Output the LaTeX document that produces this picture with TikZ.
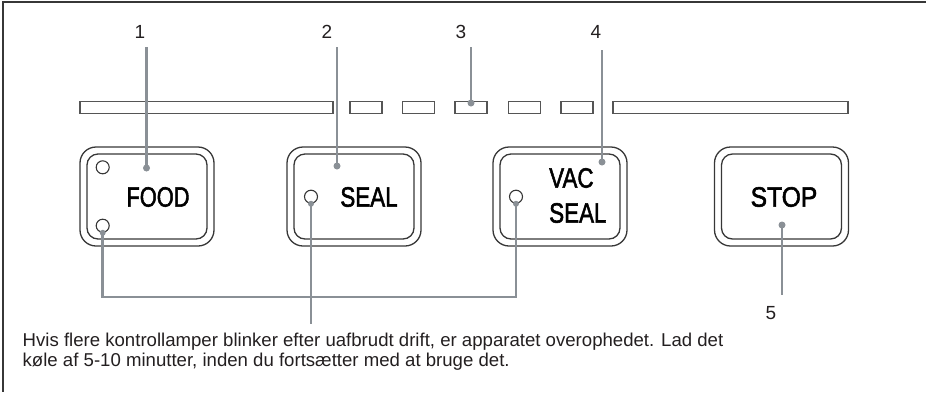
\documentclass[tikz,border=0pt]{standalone}
\usepackage{fontspec}
\setmainfont{Liberation Sans}
\newfontfamily\btnfont[FakeBold=2]{Liberation Sans}
\definecolor{dk}{RGB}{55,55,55}
\definecolor{bk}{RGB}{85,85,85}
\definecolor{ld}{RGB}{138,144,150}
\definecolor{tx}{RGB}{35,31,32}
\begin{document}
\begin{tikzpicture}[x=1pt,y=-1pt,
  frameline/.style={draw=dk, line width=2},
  outerbtn/.style={draw=dk, line width=1.3, rounded corners=16, minimum width=134, minimum height=99, inner sep=0},
  innerbtn/.style={draw=dk, line width=1.3, rounded corners=11, minimum width=120, minimum height=85, inner sep=0},
  led/.style={circle, draw=dk, line width=1.1, minimum size=13, inner sep=0, fill=white},
  bar/.style={draw=bk, line width=1.3, minimum height=12, inner sep=0},
  leader/.style={draw=ld, line width=2.8},
  enddot/.style={circle, fill=ld, minimum size=7, inner sep=0},
  num/.style={font=\fontsize{19}{19}\selectfont, text=tx, inner sep=0},
  btntext/.style={font=\btnfont\fontsize{28}{28}\selectfont, text=black, inner sep=0},
  note/.style={font=\fontsize{18.6}{20}\selectfont, text=tx, align=left, inner sep=0, anchor=north west}
]
\useasboundingbox (0,0) rectangle (926,392);
% frame
\draw[frameline] (926,2) -- (3,2) -- (3,392);

% indicator bars
\node[bar, minimum width=253] (barL) at (206.5,107.5) {};
\node[bar, minimum width=32] (b1) at (366,107.5) {};
\node[bar, minimum width=32] (b2) at (418.5,107.5) {};
\node[bar, minimum width=32] (b3) at (471,107.5) {};
\node[bar, minimum width=32] (b4) at (524.5,107.5) {};
\node[bar, minimum width=32] (b5) at (577,107.5) {};
\node[bar, minimum width=235] (barR) at (730.5,107.5) {};

% buttons
\node[outerbtn] (foodO) at (147,196.5) {};
\node[innerbtn] (foodI) at (147,196.5) {};
\node[outerbtn] (sealO) at (354,196.5) {};
\node[innerbtn] (sealI) at (354,196.5) {};
\node[outerbtn] (vacO) at (560,196.5) {};
\node[innerbtn] (vacI) at (560,196.5) {};
\node[outerbtn] (stopO) at (781.5,196.5) {};
\node[innerbtn] (stopI) at (781.5,196.5) {};

% button texts
\node[btntext] (foodT) at (158,197) {\scalebox{0.78}[1]{FOOD}};
\node[btntext] (sealT) at (369,197) {\scalebox{0.8}[1]{SEAL}};
\node[btntext, anchor=west] (vacT1) at (549,178) {\scalebox{0.8}[1]{VAC}};
\node[btntext, anchor=west] (vacT2) at (549,213) {\scalebox{0.8}[1]{SEAL}};
\node[btntext] (stopT) at (784,197) {\scalebox{0.88}[1]{STOP}};

% LEDs
\node[led] (ledA) at (102.7,167.3) {};
\node[led] (ledB) at (102.7,225.7) {};
\node[led] (ledS) at (311,196.7) {};
\node[led] (ledV) at (516,196.7) {};

% number labels
\node[num] (n1) at (140,32) {1};
\node[num] (n2) at (327,32) {2};
\node[num] (n3) at (461,32) {3};
\node[num] (n4) at (596,32) {4};
\node[num] (n5) at (771,313) {5};

% leader ends
\coordinate (t1) at (146.5,47);
\coordinate (t2) at (337,47);
\coordinate (t3) at (471,47);
\coordinate (t4) at (602,50);
\coordinate (t5) at (782,295);
\node[enddot] (d1) at (146.5,168) {};
\node[enddot] (d2) at (337,166) {};
\node[enddot] (d3) at (471,103) {};
\node[enddot] (d4) at (602,162) {};
\node[enddot] (d5) at (782,225) {};
\draw[leader] (t1) -- (d1.center);
\draw[leader] (t2) -- (d2.center);
\draw[leader] (t3) -- (d3.center);
\draw[leader] (t4) -- (d4.center);
\draw[leader] (d5.center) -- (t5);

% note text
\node[note] (noteT) at (22.5,333) {Hvis flere kontrollamper blinker efter uafbrudt drift, er apparatet overophedet. Lad det\\k\o le af 5-10 minutter, inden du forts\ae tter med at bruge det.};

% LED connectors
\coordinate (bj) at (310,324);
\draw[leader] (ledB.south) -- (ledB.south |- 0,297) -| (ledV.south);
\draw[leader] (ledS.south) -- (ledS.south |- bj);
\node[enddot, minimum size=6] (eB) at (ledB.south) {};
\node[enddot, minimum size=6] (eS) at (ledS.south) {};
\node[enddot, minimum size=6] (eV) at (ledV.south) {};
\end{tikzpicture}
\end{document}
